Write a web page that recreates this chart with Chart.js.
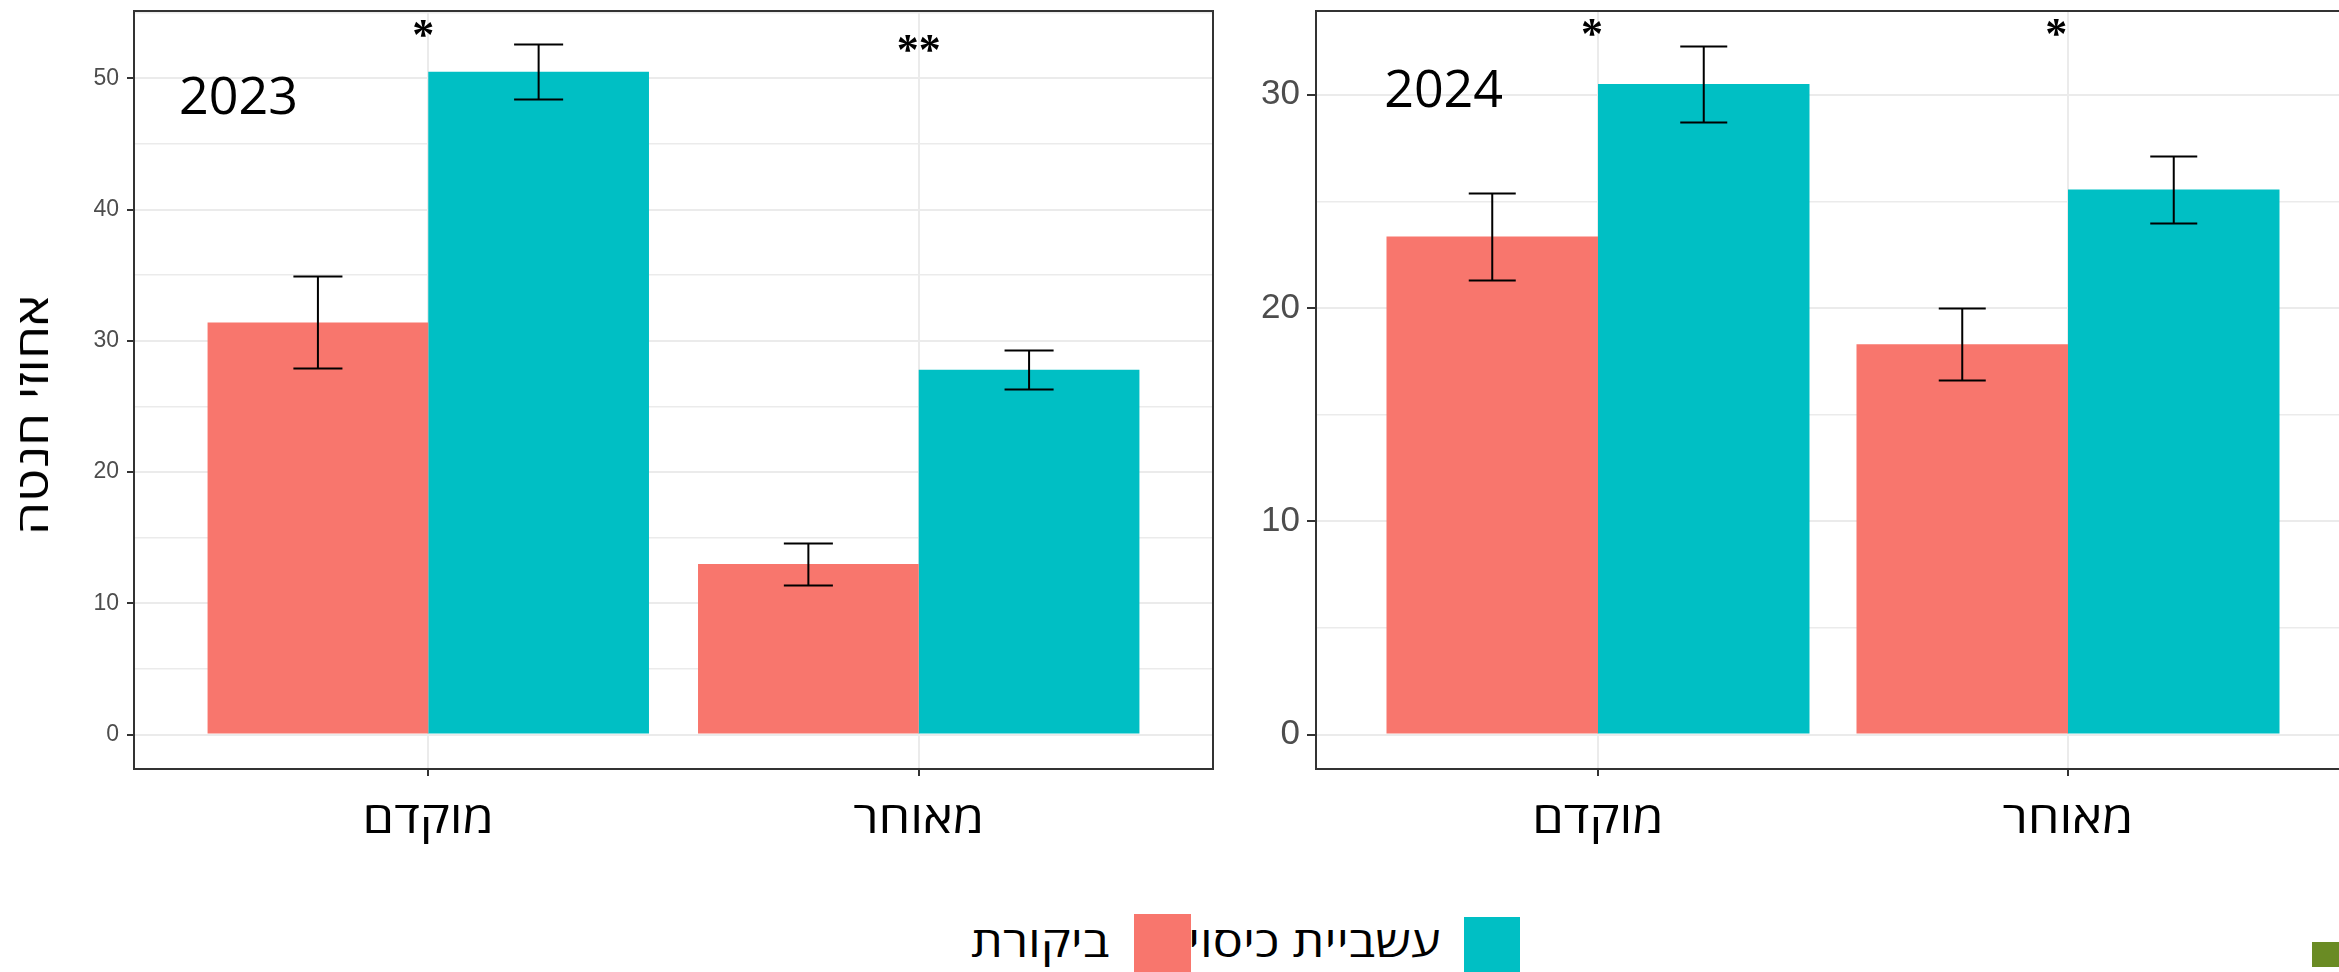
<!DOCTYPE html>
<html lang="he">
<head>
<meta charset="utf-8">
<script src="https://cdn.jsdelivr.net/npm/chart.js@4.4.1/dist/chart.umd.min.js"></script>
<style>
  html, body { margin: 0; padding: 0; width: 2339px; height: 972px; overflow: hidden; background: #fff; }
  canvas { position: absolute; top: 0; }
  #c2023 { left: 0; }
  #c2024 { left: 1230px; }
  .txt { position: absolute; font-family: 'Open Sans', 'DejaVu Sans', sans-serif; color: #000; white-space: nowrap; direction: rtl; line-height: 1; }
  .leg { transform: scaleX(1.2); transform-origin: right center; }
  .sw { position: absolute; }
</style>
</head>
<body>
<canvas id="c2023" width="1240" height="900"></canvas>
<canvas id="c2024" width="1140" height="900"></canvas>

<div class="txt" id="ytitle" style="left:31px; top:415px; font-size:44px; transform: translate(-50%, -50%) rotate(-90deg) scaleX(1.2);">אחוזי חנטה</div>

<!-- legend -->
<div class="txt leg" style="right:1230px; top:920px; font-size:42px;">ביקורת</div>
<div class="sw" style="left:1134px; top:914px; width:57px; height:58px; background:#F8766D;"></div>
<div class="txt leg" style="right:899px; top:920px; font-size:42px;">עשביית כיסוי</div>
<div class="sw" style="left:1464px; top:917px; width:56px; height:55px; background:#00BFC4;"></div>

<div class="sw" style="left:2312px; top:942px; width:27px; height:25px; background:#6a8b24;"></div>

<script>
// data
const categories = ['מוקדם', 'מאוחר'];
const seriesNames = ['ביקורת', 'עשביית כיסוי'];

const control2023 = [31.4, 13.0];
const cover2023 = [50.5, 27.8];
const controlErr2023 = [3.5, 1.6];
const coverErr2023 = [2.1, 1.5];

const control2024 = [23.35, 18.3];
const cover2024 = [30.5, 25.55];
const controlErr2024 = [2.05, 1.7];
const coverErr2024 = [1.8, 1.57];

const sig2023 = ['*', '**'];
const sig2024 = ['*', '*'];

const RED = '#F8766D';
const TEAL = '#00BFC4';

function points(vals) {
  return vals.map((v, i) => ({ x: i + 1, y: v }));
}

// mean +/- error whiskers, cap is 0.1 x-units wide
const errorBars = {
  id: 'errorBars',
  afterDatasetsDraw(chart) {
    const { ctx, scales: { x, y } } = chart;
    const half = x.getPixelForValue(1.05) - x.getPixelForValue(1);
    ctx.save();
    ctx.strokeStyle = '#000';
    ctx.lineWidth = 2;
    chart.data.datasets.forEach((ds, di) => {
      chart.getDatasetMeta(di).data.forEach((bar, i) => {
        const v = ds.data[i].y, e = ds.err[i];
        const top = Math.round(y.getPixelForValue(v + e)) + 0.5;
        const bot = Math.round(y.getPixelForValue(v - e)) + 0.5;
        ctx.beginPath();
        ctx.moveTo(bar.x, top); ctx.lineTo(bar.x, bot);
        ctx.moveTo(bar.x - half, top); ctx.lineTo(bar.x + half, top);
        ctx.moveTo(bar.x - half, bot); ctx.lineTo(bar.x + half, bot);
        ctx.stroke();
      });
    });
    ctx.restore();
  }
};

// panel border drawn last, like ggplot
const frame = {
  id: 'frame',
  afterDraw(chart) {
    const { ctx, chartArea: a } = chart;
    ctx.save();
    ctx.strokeStyle = '#333';
    ctx.lineWidth = 2;
    ctx.strokeRect(a.left, a.top, a.right - a.left, a.bottom - a.top);
    ctx.restore();
  }
};

// category names under the ticks; the original font is wider, so stretch a bit
const xLabels = {
  id: 'xLabels',
  afterDraw(chart) {
    const { ctx, chartArea: a, scales: { x } } = chart;
    ctx.save();
    ctx.fillStyle = '#000';
    ctx.font = "44px 'Open Sans', 'DejaVu Sans', sans-serif";
    ctx.textAlign = 'center';
    ctx.textBaseline = 'alphabetic';
    x.ticks.forEach((t, i) => {
      ctx.save();
      ctx.translate(x.getPixelForTick(i), a.bottom + 64);
      ctx.scale(1.15, 1);
      ctx.fillText(categories[t.value - 1], 0, 0);
      ctx.restore();
    });
    ctx.restore();
  }
};

// year label + significance stars, placed in data units
function notes(year, yearAt, marks, markAt) {
  return {
    id: 'notes',
    afterDatasetsDraw(chart) {
      const { ctx, scales: { x, y } } = chart;
      ctx.save();
      ctx.fillStyle = '#000';
      ctx.textBaseline = 'alphabetic';
      ctx.font = "52px 'Open Sans', sans-serif";
      ctx.textAlign = 'left';
      ctx.fillText(year, x.getPixelForValue(yearAt[0]), y.getPixelForValue(yearAt[1]) + 18.5);
      ctx.font = "bold 44px 'Liberation Serif', serif";
      ctx.textAlign = 'center';
      marks.forEach((m, i) => {
        ctx.fillText(m, x.getPixelForValue(markAt[i][0]), y.getPixelForValue(markAt[i][1]) + 22);
      });
      ctx.restore();
    }
  };
}

function buildChart(id, cfg) {
  const isMajor = v => v % 10 === 0;
  return new Chart(document.getElementById(id), {
    type: 'bar',
    data: {
      datasets: [
        { label: seriesNames[0], data: points(cfg.control), err: cfg.controlErr, backgroundColor: RED },
        { label: seriesNames[1], data: points(cfg.cover), err: cfg.coverErr, backgroundColor: TEAL }
      ]
    },
    options: {
      responsive: false,
      animation: false,
      layout: { padding: { top: 11, right: cfg.padRight, left: 0, bottom: 0 } },
      datasets: { bar: { categoryPercentage: 0.9, barPercentage: 1.0 } },
      plugins: { legend: { display: false }, tooltip: { enabled: false } },
      scales: {
        x: {
          type: 'linear',
          min: 0.4,
          max: 2.6,
          offset: false,
          afterBuildTicks: s => { s.ticks = categories.map((c, i) => ({ value: i + 1 })); },
          afterFit: s => { s.height = 131; s.paddingLeft = 0; s.paddingRight = 0; },
          grid: { offset: false, color: '#ebebeb', lineWidth: 2, tickColor: '#333', tickWidth: 2, tickLength: 7 },
          border: { display: false },
          ticks: { display: false, autoSkip: false }
        },
        y: {
          min: cfg.yMin,
          max: cfg.yMax,
          afterBuildTicks: s => {
            const t = [];
            for (let v = 0; v <= cfg.yMax; v += 5) t.push({ value: v });
            s.ticks = t;
          },
          afterFit: s => { s.width = cfg.yWidth; s.paddingTop = 0; s.paddingBottom = 0; },
          grid: {
            color: '#ebebeb',
            lineWidth: c => (c.tick && isMajor(c.tick.value)) ? 2 : 1.5,
            tickColor: c => (c.tick && isMajor(c.tick.value)) ? '#333' : 'rgba(0,0,0,0)',
            tickWidth: 2,
            tickLength: cfg.yTick
          },
          border: { display: false },
          ticks: {
            callback: v => isMajor(v) ? String(v) : '',
            color: '#4d4d4d',
            font: { family: "'Liberation Sans', Arial, sans-serif", size: cfg.yFont },
            padding: cfg.yPad,
            autoSkip: false
          }
        }
      }
    },
    plugins: [errorBars, notes(cfg.year, cfg.yearAt, cfg.marks, cfg.markAt), xLabels, frame]
  });
}

buildChart('c2023', {
  control: control2023, cover: cover2023,
  controlErr: controlErr2023, coverErr: coverErr2023,
  yMin: -2.625, yMax: 55.125,
  yWidth: 134, padRight: 27,
  yFont: 23, yTick: 7, yPad: 8,
  year: '2023', yearAt: [0.492, 48.7],
  marks: sig2023, markAt: [[0.99, 53.9], [2.0, 52.8]]
});

buildChart('c2024', {
  control: control2024, cover: cover2024,
  controlErr: controlErr2024, coverErr: coverErr2024,
  yMin: -1.615, yMax: 33.92,
  yWidth: 86, padRight: 20,
  yFont: 35, yTick: 9, yPad: 7,
  year: '2024', yearAt: [0.545, 30.3],
  marks: sig2024, markAt: [[0.987, 33.2], [1.975, 33.2]]
});
</script>
</body>
</html>
